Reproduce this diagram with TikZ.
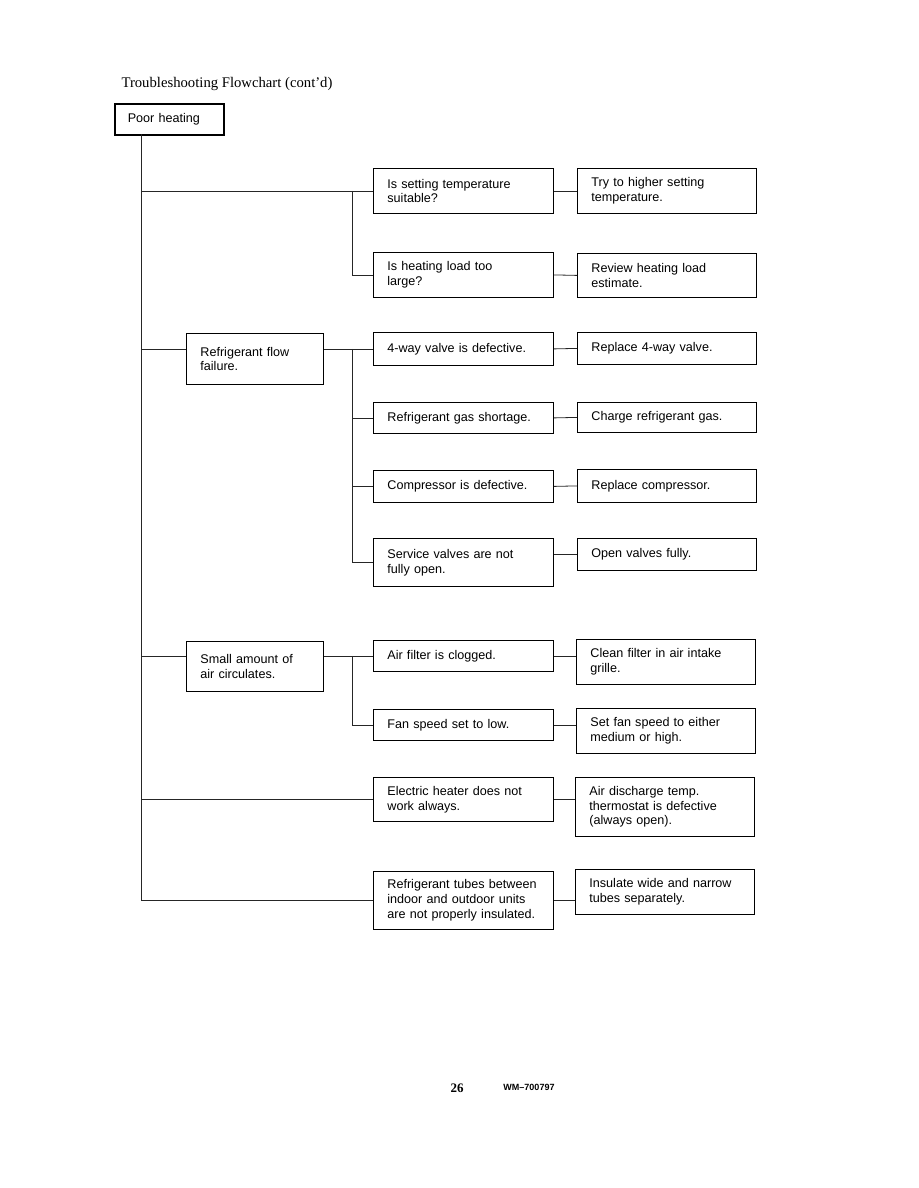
\documentclass[tikz,border=0pt]{standalone}
\usepackage{fontspec}
\setmainfont{Liberation Serif}
\newfontfamily\boxfont{Liberation Sans}
\usepackage{tikz}
\usetikzlibrary{positioning, calc}
\hyphenpenalty=10000

\begin{document}
\begin{tikzpicture}[
  x=1pt, y=-1pt,
  box/.style={draw, line width=0.8pt, anchor=north west, align=left, inner xsep=14pt, inner ysep=0pt,
    font=\boxfont\fontsize{12.6}{14.8}\selectfont},
  qbox/.style={box, text width=152pt},
  abox/.style={box, text width=151pt},
  mbox/.style={box, text width=109pt},
  link/.style={line width=0.8pt, black!85}
]

\useasboundingbox (0,0) rectangle (918,1188);

\node[anchor=base west, font=\fontsize{14.7}{17}\selectfont] (title) at (118,88) {Troubleshooting Flowchart (cont’d)};

\node[box, line width=1.6pt, inner xsep=13pt, text width=83pt, minimum height=31pt] (poor) at (114,103) {Poor heating};

\node[qbox, minimum height=45pt] (setting) at (373,168) {Is setting temperature\\suitable?};
\node[qbox, minimum height=45pt] (load) at (373,252) {Is heating load too\\large?};
\node[abox, minimum height=45pt] (higher) at (577,168) {Try to higher setting\\temperature.};
\node[abox, minimum height=44pt] (review) at (577,253) {Review heating load\\estimate.};

\node[mbox, minimum height=51pt] (flow) at (186,333) {Refrigerant flow\\failure.};
\node[qbox, minimum height=33pt] (valve) at (373,332) {4-way valve is defective.};
\node[qbox, minimum height=31pt] (gas) at (373,402) {Refrigerant gas shortage.};
\node[qbox, minimum height=32pt] (comp) at (373,470) {Compressor is defective.};
\node[qbox, minimum height=48pt] (service) at (373,538) {Service valves are not\\fully open.};
\node[abox, minimum height=32pt] (replvalve) at (577,332) {Replace 4-way valve.};
\node[abox, minimum height=30pt] (charge) at (577,402) {Charge refrigerant gas.};
\node[abox, minimum height=33pt] (replcomp) at (577,469) {Replace compressor.};
\node[abox, minimum height=32pt] (openv) at (577,538) {Open valves fully.};

\node[mbox, minimum height=50pt] (air) at (186,641) {Small amount of\\air circulates.};
\node[qbox, minimum height=31pt] (filter) at (373,640) {Air filter is clogged.};
\node[qbox, minimum height=31pt] (fan) at (373,709) {Fan speed set to low.};
\node[abox, minimum height=45pt] (clean) at (576,639) {Clean filter in air intake\\grille.};
\node[abox, minimum height=45pt] (fanset) at (576,708) {Set fan speed to either\\medium or high.};

\node[qbox, minimum height=44pt] (heater) at (373,777) {Electric heater does not\\work always.};
\node[abox, minimum height=59pt] (thermo) at (575,777) {Air discharge temp.\\thermostat is defective\\(always open).};

\node[qbox, minimum height=58pt] (tubes) at (373,871) {Refrigerant tubes between\\indoor and outdoor units\\are not properly insulated.};
\node[abox, minimum height=45pt] (insulate) at (575,869) {Insulate wide and narrow\\tubes separately.};

\node[font=\bfseries\fontsize{13}{15}\selectfont] (page) at (457,1088) {26};
\node[font=\boxfont\bfseries\fontsize{9}{11}\selectfont] (docno) at (529,1087) {WM–700797};

\coordinate (trunk) at (141,134);
\coordinate (bus) at (352,0);

\draw[link] (trunk) -- (trunk |- tubes.west) -- (tubes.west);
\draw[link] (trunk |- setting.west) -- (setting.west);
\draw[link] (trunk |- valve.west) -- (valve.west -| flow.west);
\draw[link] (trunk |- filter.west) -- (filter.west -| air.west);
\draw[link] (trunk |- heater.west) -- (heater.west);

\draw[link] (setting.west -| bus) |- (load.west);
\draw[link] (valve.west -| flow.east) -- (valve.west);
\draw[link] (valve.west -| bus) |- (service.west);
\draw[link] (bus |- gas.west) -- (gas.west);
\draw[link] (bus |- comp.west) -- (comp.west);
\draw[link] (filter.west -| air.east) -- (filter.west);
\draw[link] (filter.west -| bus) |- (fan.west);

\draw[link] (setting.east) -- (higher.west);
\draw[link] (load.east) -- (review.west);
\draw[link] (valve.east) -- (replvalve.west);
\draw[link] (gas.east) -- (charge.west);
\draw[link] (comp.east) -- (replcomp.west);
\draw[link] (service.east |- openv.west) -- (openv.west);
\draw[link] (filter.east) -- (filter.east -| clean.west);
\draw[link] (fan.east) -- (fan.east -| fanset.west);
\draw[link] (heater.east) -- (heater.east -| thermo.west);
\draw[link] (tubes.east) -- (tubes.east -| insulate.west);

\end{tikzpicture}
\end{document}
